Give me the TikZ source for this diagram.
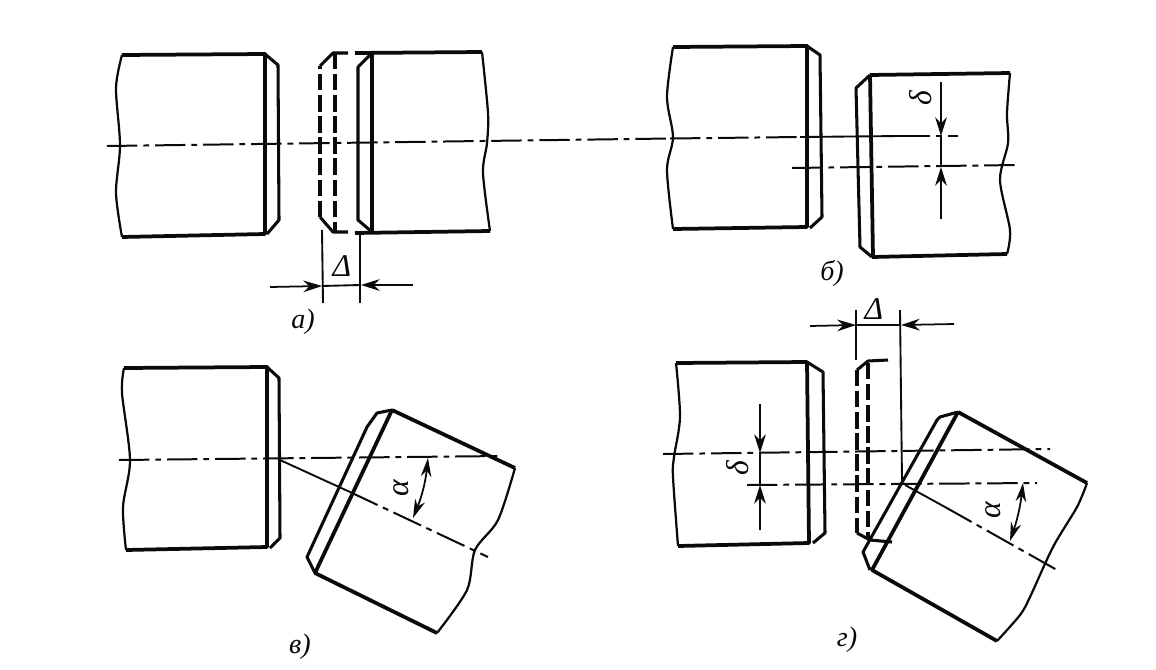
\documentclass[tikz,border=0pt]{standalone}
\usepackage{fontspec}
\setmainfont{Liberation Serif}
\usetikzlibrary{arrows.meta}
\definecolor{inkBlack}{RGB}{10,10,10}
\tikzset{
  heavy/.style={inkBlack, line width=3.2pt, line join=round},
  medium/.style={inkBlack, line width=2.6pt, line join=round},
  wavy/.style={inkBlack, line width=1.9pt, line join=round},
  light/.style={inkBlack, line width=1.6pt, line join=round},
  hidden/.style={inkBlack, line width=3pt, dash pattern=on 14pt off 4pt},
  axis/.style={inkBlack, line width=1.7pt, dash pattern=on 26pt off 5pt on 5pt off 5pt},
  dim/.style={inkBlack, line width=1.5pt, -{Stealth[length=16pt,width=10pt]}},
  dimboth/.style={inkBlack, line width=1.5pt, {Stealth[length=16pt,width=9pt]}-{Stealth[length=16pt,width=9pt]}},
  caption/.style={inkBlack, inner sep=0pt, font=\fontsize{24}{24}\selectfont\itshape},
  symbol/.style={inkBlack, inner sep=0pt, font=\fontsize{27}{27}\selectfont\itshape}
}
\begin{document}
\begin{tikzpicture}[x=0.03cm, y=-0.03cm]
  \useasboundingbox (0,0) rectangle (1156,669);
  \fill[white] (0,0) rectangle (1156,669);

  % a) gap along the axis
  \draw[wavy] plot[smooth] coordinates {(122,55) (116,88) (120,145) (116,193) (122,237)};
  \draw[heavy] (122,55) -- (265,54) -- (265,234) -- (122,237);
  \draw[medium] (265,54) -- (278,65) -- (279,220) -- (267,234);
  \draw[hidden] (320,217) -- (320,66);
  \draw[medium] (320,217) -- (333,232) -- (348,232);
  \draw[medium] (320,66) -- (333,53) -- (348,53);
  \draw[hidden] (335,53) -- (335,232);
  \draw[heavy] (355,53) -- (482,52);
  \draw[heavy] (355,233) -- (490,231);
  \draw[heavy] (372,53) -- (372,232);
  \draw[medium] (372,53) -- (358,67) -- (358,220) -- (372,232);
  \draw[wavy] plot[smooth] coordinates {(482,52) (488,113) (487,143) (483,173) (490,231)};
  \draw[axis] (107,146) -- (670,138.5);
  \draw[light] (322,230) -- (323,303);
  \draw[light] (360,233) -- (360,303);
  \draw[dim] (270,287) -- (322,286);
  \draw[dim] (413,285) -- (361,285);
  \draw[light] (322,286) -- (360,285);
  \node[symbol] (gapA) at (342,266) {Δ};
  \node[caption] (labelA) at (303,322) {а)};

  % b) parallel offset
  \draw[wavy] plot[smooth] coordinates {(673,47) (667,97) (673,137) (667,170) (673,229)};
  \draw[heavy] (673,47) -- (807,46) -- (807,227) -- (673,229);
  \draw[medium] (807,46) -- (820,55) -- (822,217) -- (810,228);
  \draw[heavy] (870,75) -- (1010,73);
  \draw[heavy] (872,257) -- (1007,254);
  \draw[heavy] (870,75) -- (873,257);
  \draw[medium] (870,75) -- (856,88) -- (860,247) -- (872,257);
  \draw[wavy] plot[smooth] coordinates {(1010,73) (1007,113) (1008,143) (1000,180) (1010,230) (1007,254)};
  \draw[axis] (670,138.5) -- (800,137);
  \draw[light] (800,137) -- (900,136);
  \draw[axis] (900,136) -- (958,136);
  \draw[axis] (792,168) -- (1017,165);
  \draw[dim] (941,82) -- (941,136);
  \draw[dim] (941,219) -- (941,167);
  \draw[light] (941,136) -- (941,167);
  \node[symbol, rotate=90] (offsetB) at (921,98) {δ};
  \node[caption] (labelB) at (832,273) {б)};

  % c) angular misalignment
  \draw[wavy] plot[smooth] coordinates {(124,368) (122,393) (130,460) (123,507) (126,550)};
  \draw[heavy] (124,368) -- (267,367) -- (267,547) -- (126,550);
  \draw[medium] (267,367) -- (279,378) -- (280,538) -- (270,548);
  \draw[heavy] (392,410) -- (515,468);
  \draw[heavy] (392,410) -- (315,573) -- (437,633);
  \draw[medium] (392,410) -- (377,413) -- (367,427) -- (307,557) -- (315,573);
  \draw[wavy] plot[smooth] coordinates {(515,468) (498,520) (475,550) (467,590) (437,633)};
  \draw[axis] (119,460) -- (503,456);
  \draw[light] (280,460) -- (350,492);
  \draw[axis] (350,492) -- (488,557);
  \draw[dimboth] (428,458) to[bend left=8] (413,518);
  \node[symbol, rotate=90] (angleC) at (401,488) {α};
  \node[caption] (labelC) at (300,647) {в)};

  % d) gap, offset and angle together
  \draw[wavy] plot[smooth] coordinates {(676,363) (680,417) (674,457) (673,477) (678,546)};
  \draw[heavy] (676,363) -- (807,362) -- (809,543) -- (678,546);
  \draw[medium] (807,362) -- (823,372) -- (825,533) -- (813,543);
  \draw[hidden] (857,370) -- (857,533);
  \draw[medium] (857,533) -- (870,540) -- (892,542);
  \draw[medium] (857,370) -- (868,361) -- (888,360);
  \draw[hidden] (868,363) -- (868,540);
  \draw[heavy] (958,412) -- (1087,483);
  \draw[heavy] (958,412) -- (872,570) -- (997,641);
  \draw[medium] (958,412) -- (940,417) -- (937,420) -- (863,552) -- (870,570);
  \draw[wavy] plot[smooth] coordinates {(1087,483) (1077,507) (1053,547) (1030,597) (1020,615) (997,641)};
  \draw[axis] (663,454) -- (1050,449);
  \draw[axis] (747,485) -- (1037,483);
  \draw[light] (905,485) -- (945,507);
  \draw[axis] (945,507) -- (1057,570);
  \draw[light] (856,310) -- (856,360);
  \draw[light] (900,310) -- (902,480);
  \draw[dim] (810,326) -- (856,325);
  \draw[dim] (954,324) -- (901,325);
  \draw[light] (856,325) -- (900,325);
  \draw[dim] (760,404) -- (760,453);
  \draw[dim] (760,530) -- (760,485);
  \draw[light] (760,453) -- (760,485);
  \draw[dimboth] (1023,483) to[bend left=6] (1010,541);
  \node[symbol] (gapD) at (874,309) {Δ};
  \node[symbol, rotate=90] (offsetD) at (738,468) {δ};
  \node[symbol, rotate=90] (angleD) at (993,510) {α};
  \node[caption] (labelD) at (847,640) {г)};
\end{tikzpicture}
\end{document}
